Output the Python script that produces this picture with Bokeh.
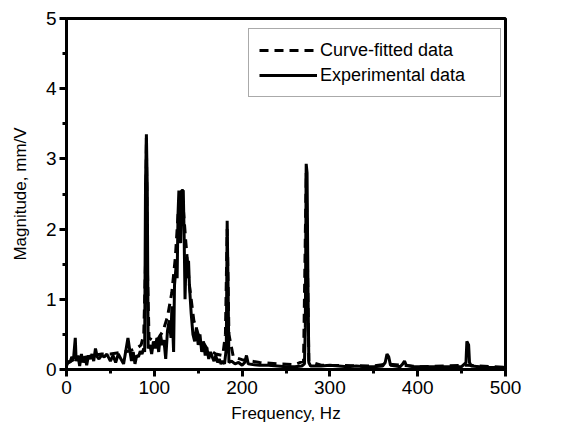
from bokeh.plotting import figure
from bokeh.models import Range1d, SingleIntervalTicker, Legend, LegendItem
from bokeh.embed import file_html
from bokeh.resources import INLINE

# Experimental data (frequency in Hz, magnitude in mm/V)
exp_freq = [0, 2, 4, 6, 8, 10, 11, 13, 15, 17, 19, 21, 23, 25, 27, 29, 31, 33, 35, 37,
            40, 43, 46, 50, 53, 56, 59, 62, 65, 68, 70, 72, 74, 76, 78, 80, 82, 84, 86, 88,
            89, 90, 91, 92, 93, 95, 97, 99, 101, 103, 105, 107, 109, 111, 113, 115, 117, 119,
            120, 122, 123, 125, 126, 127, 128, 130, 131, 133, 134, 135, 136, 137, 138, 139,
            140, 142, 144, 146, 148, 150, 152, 154, 156, 158, 160, 162, 164, 166, 168, 170,
            172, 174, 176, 178, 180, 182, 183, 184, 185, 188, 192, 196, 200, 203, 205, 207,
            212, 220, 230, 240, 250, 260, 268, 271, 272, 273, 274, 275, 276, 278, 290, 300,
            310, 320, 330, 340, 350, 360, 363, 365, 367, 369, 375, 380, 383, 385, 387, 395,
            410, 430, 450, 455, 456, 458, 459, 461, 480, 500]
exp_mag = [0.05, 0.12, 0.10, 0.18, 0.15, 0.45, 0.12, 0.20, 0.05, 0.22, 0.10, 0.18, 0.06, 0.20,
           0.15, 0.22, 0.12, 0.30, 0.18, 0.15, 0.20, 0.18, 0.22, 0.12, 0.20, 0.10, 0.22, 0.15,
           0.08, 0.30, 0.45, 0.28, 0.12, 0.25, 0.08, 0.20, 0.18, 0.26, 0.22, 0.30, 0.25, 2.65,
           3.35, 2.60, 0.30, 0.35, 0.22, 0.40, 0.30, 0.45, 0.25, 0.50, 0.35, 0.42, 0.15, 0.55,
           0.70, 0.45, 0.90, 0.25, 1.20, 1.50, 1.30, 2.20, 2.55, 1.80, 2.55, 2.55, 1.90, 1.00,
           1.50, 1.60, 1.30, 1.55, 1.20, 0.80, 0.50, 0.40, 0.60, 0.35, 0.50, 0.25, 0.40, 0.20,
           0.30, 0.15, 0.25, 0.18, 0.12, 0.20, 0.10, 0.15, 0.08, 0.12, 0.08, 0.30, 2.12, 1.20,
           0.10, 0.12, 0.08, 0.10, 0.06, 0.10, 0.20, 0.08, 0.07, 0.06, 0.06, 0.05, 0.04, 0.04,
           0.05, 0.08, 0.60, 2.93, 2.80, 1.20, 0.10, 0.05, 0.05, 0.06, 0.05, 0.04, 0.05, 0.04,
           0.04, 0.05, 0.10, 0.22, 0.18, 0.06, 0.05, 0.04, 0.08, 0.12, 0.06, 0.04, 0.04, 0.04,
           0.04, 0.10, 0.40, 0.35, 0.10, 0.05, 0.03, 0.03]

# Curve-fitted data
fit_freq = [0, 5, 10, 20, 30, 40, 50, 60, 70, 80, 85, 88, 90, 91, 92, 94, 100, 105, 110, 115,
            120, 124, 127, 130, 133, 136, 140, 145, 150, 160, 170, 178, 181, 183, 185, 190,
            200, 220, 240, 260, 270, 273, 276, 290, 350, 365, 400, 457, 500]
fit_mag = [0.08, 0.12, 0.15, 0.17, 0.20, 0.22, 0.22, 0.24, 0.26, 0.30, 0.35, 0.50, 1.50, 3.30,
           1.50, 0.45, 0.40, 0.45, 0.55, 0.75, 1.10, 1.60, 2.20, 2.50, 2.30, 1.80, 1.20, 0.70,
           0.50, 0.30, 0.22, 0.20, 0.50, 2.00, 0.50, 0.18, 0.14, 0.10, 0.08, 0.07, 0.12, 2.80,
           0.12, 0.06, 0.05, 0.08, 0.04, 0.06, 0.03]

x_label = "Frequency, Hz"
y_label = "Magnitude, mm/V"
series_names = ["Curve-fitted data", "Experimental data"]

FONT = "Liberation Sans"

p = figure(width=573, height=437, output_backend="svg", toolbar_location=None,
           x_range=Range1d(0, 500), y_range=Range1d(0, 5),
           min_border_left=66, min_border_right=68, min_border_top=18, min_border_bottom=68)
p.background_fill_color = "white"
p.border_fill_color = "white"
p.grid.visible = False
p.outline_line_color = "black"
p.outline_line_width = 3

fit_r = p.line(fit_freq, fit_mag, line_color="black", line_width=3, line_dash="9 6")
exp_r = p.line(exp_freq, exp_mag, line_color="black", line_width=3)

p.xaxis.ticker = SingleIntervalTicker(interval=100, num_minor_ticks=2)
p.yaxis.ticker = SingleIntervalTicker(interval=1, num_minor_ticks=2)
for ax in (p.xaxis[0], p.yaxis[0]):
    ax.axis_line_width = 3
    ax.axis_line_color = "black"
    ax.major_tick_line_width = 3
    ax.minor_tick_line_width = 3
    ax.major_tick_in = 0
    ax.major_tick_out = 7
    ax.minor_tick_in = 0
    ax.minor_tick_out = 4
    ax.major_label_text_font = FONT
    ax.major_label_text_font_size = "19px"
    ax.major_label_text_color = "black"
    ax.axis_label_text_font = FONT
    ax.axis_label_text_font_size = "17px"
    ax.axis_label_text_font_style = "normal"
    ax.axis_label_text_color = "black"
p.xaxis.axis_label = x_label
p.yaxis.axis_label = y_label
p.xaxis.major_label_standoff = 4
p.xaxis.axis_label_standoff = 7
p.yaxis.major_label_standoff = 3
p.yaxis.axis_label_standoff = 13

legend = Legend(items=[LegendItem(label=series_names[0], renderers=[fit_r]),
                       LegendItem(label=series_names[1], renderers=[exp_r])],
                location=(182, 272))
legend.label_text_font = FONT
legend.label_text_font_size = "18px"
legend.label_text_color = "black"
legend.glyph_width = 58
legend.glyph_height = 22
legend.label_height = 22
legend.label_width = 170
legend.spacing = 3
legend.padding = 10
legend.margin = 0
legend.label_standoff = 3
legend.border_line_color = "#555555"
legend.border_line_width = 1
legend.background_fill_alpha = 1
p.add_layout(legend)

open("out.html", "w").write(file_html(p, INLINE))
